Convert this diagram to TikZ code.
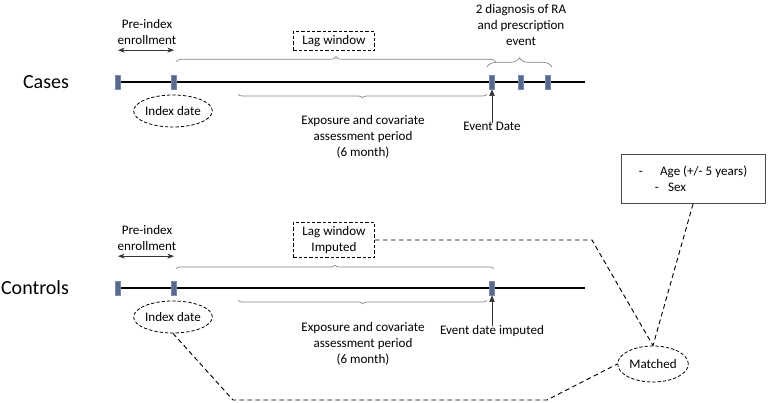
\documentclass[tikz,border=0pt]{standalone}
\usepackage{fontspec}
\setmainfont{Carlito}
\usepackage{xcolor}
\usepackage{tikz}
\usetikzlibrary{arrows.meta,positioning,calc,decorations.pathreplacing,shapes.geometric,backgrounds}

\definecolor{tickfill}{RGB}{90,104,138}
\definecolor{tickline}{RGB}{120,140,180}
\definecolor{bracegray}{RGB}{130,130,130}

\begin{document}
\begin{tikzpicture}[
    x=0.75pt, y=-0.75pt,
    font=\fontsize{9.8}{12}\selectfont,
    group/.style={font=\fontsize{15}{17}\selectfont, inner sep=0pt},
    tickbox/.style={rectangle, draw=tickline, fill=tickfill, line width=0.4pt, minimum width=3.6pt, minimum height=10.5pt, inner sep=0pt},
    timeline/.style={line width=1.1pt},
    txt/.style={align=center, inner sep=1pt},
    lagbox/.style={rectangle, draw, dashed, line width=0.6pt, dash pattern=on 2.5pt off 1.5pt, align=center, minimum width=61pt, inner sep=3pt},
    dateell/.style={ellipse, draw, line width=0.6pt, dash pattern=on 2.5pt off 1.5pt, minimum width=51pt, minimum height=24pt, inner sep=0pt},
    gbrace/.style={decorate, decoration={brace, amplitude=3pt}, draw=bracegray, line width=0.5pt},
    spanarrow/.style={{Stealth[length=5pt]}-{Stealth[length=5pt]}, line width=0.5pt, black!80},
    evarrow/.style={-{Triangle[length=5pt,width=4pt]}, line width=0.5pt, black!80},
    matchline/.style={line width=0.7pt, dash pattern=on 3.5pt off 2.5pt}
]
    \useasboundingbox (0,0) rectangle (768,403);

    % Cases
    \node[group] (cases) at (46,82) {Cases};
    \node[tickbox] (cstart) at (118,82) {};
    \node[tickbox] (cindex) at (174,82) {};
    \node[tickbox] (cevent) at (492,82) {};
    \node[tickbox] (cdxb) at (521,82) {};
    \node[tickbox] (cdxc) at (548,82) {};
    \coordinate (cend) at (585,82);
    \begin{scope}[on background layer]
        \draw[timeline] (cstart.center) -- (cend);
    \end{scope}

    \node[txt] (cpre) at (147,32) {Pre-index\\enrollment};
    \draw[spanarrow] ($(cpre.south -| cstart)+(0,-3pt)$) -- ($(cpre.south -| cindex)+(0,-3pt)$);

    \node[lagbox] (clag) at (334,41) {Lag window};
    \draw[gbrace, decoration={amplitude=4pt}] (176,62) -- (496,62);

    \node[dateell] (cidx) at (173,111) {Index date};
    \draw[gbrace, decoration={mirror}] (238,94) -- (487,94);
    \node[txt] (cexp) at (363,137) {Exposure and covariate\\assessment period\\(6 month)};

    \node[txt] (cevlbl) at (492,126) {Event Date};
    \draw[evarrow] ([yshift=-2pt]cevlbl.north) -- (cevent.south);

    \node[txt] (cdx) at (521,25) {2 diagnosis of RA\\and prescription\\event};
    \draw[gbrace, decoration={amplitude=7pt}] (487,67) -- (552,67);

    % Controls
    \node[group] (ctrl) at (35,288) {Controls};
    \node[tickbox] (kstart) at (118,288) {};
    \node[tickbox] (kindex) at (174,288) {};
    \node[tickbox] (kevent) at (492,288) {};
    \coordinate (kend) at (585,288);
    \begin{scope}[on background layer]
        \draw[timeline] (kstart.center) -- (kend);
    \end{scope}

    \node[txt] (kpre) at (147,238) {Pre-index\\enrollment};
    \draw[spanarrow] ($(kpre.south -| kstart)+(0,-3pt)$) -- ($(kpre.south -| kindex)+(0,-3pt)$);

    \node[lagbox] (klag) at (334,240) {Lag window\\Imputed};
    \draw[gbrace, decoration={amplitude=3pt}] (176,269) -- (494,269);

    \node[dateell] (kidx) at (173,317) {Index date};
    \draw[gbrace, decoration={mirror}] (238,300) -- (487,300);
    \node[txt] (kexp) at (363,344) {Exposure and covariate\\assessment period\\(6 month)};

    \node[txt] (kevlbl) at (492,331) {Event date imputed};
    \draw[evarrow] ([yshift=-2pt]kevlbl.north) -- (kevent.south);

    % Matching
    \node[rectangle, draw=black!70, line width=0.6pt, minimum width=108pt, minimum height=37pt, align=left] (criteria) at (693,179)
        {-\hspace{13pt}Age (+/- 5 years)\\\hspace{12pt}-\hspace{7pt}Sex};
    \node[dateell, minimum width=53pt, minimum height=27pt] (matched) at (653,364) {Matched};

    \coordinate (bendlag) at (592,240);
    \coordinate (bendlow) at (233,400);
    \coordinate (bendmid) at (547,400);
    \draw[matchline] (klag.east) -- (bendlag) -- (matched.north);
    \draw[matchline] (criteria.south) -- (matched.north);
    \draw[matchline] (kidx.south) -- (bendlow) -- (bendmid) -- (matched.west);
\end{tikzpicture}
\end{document}
